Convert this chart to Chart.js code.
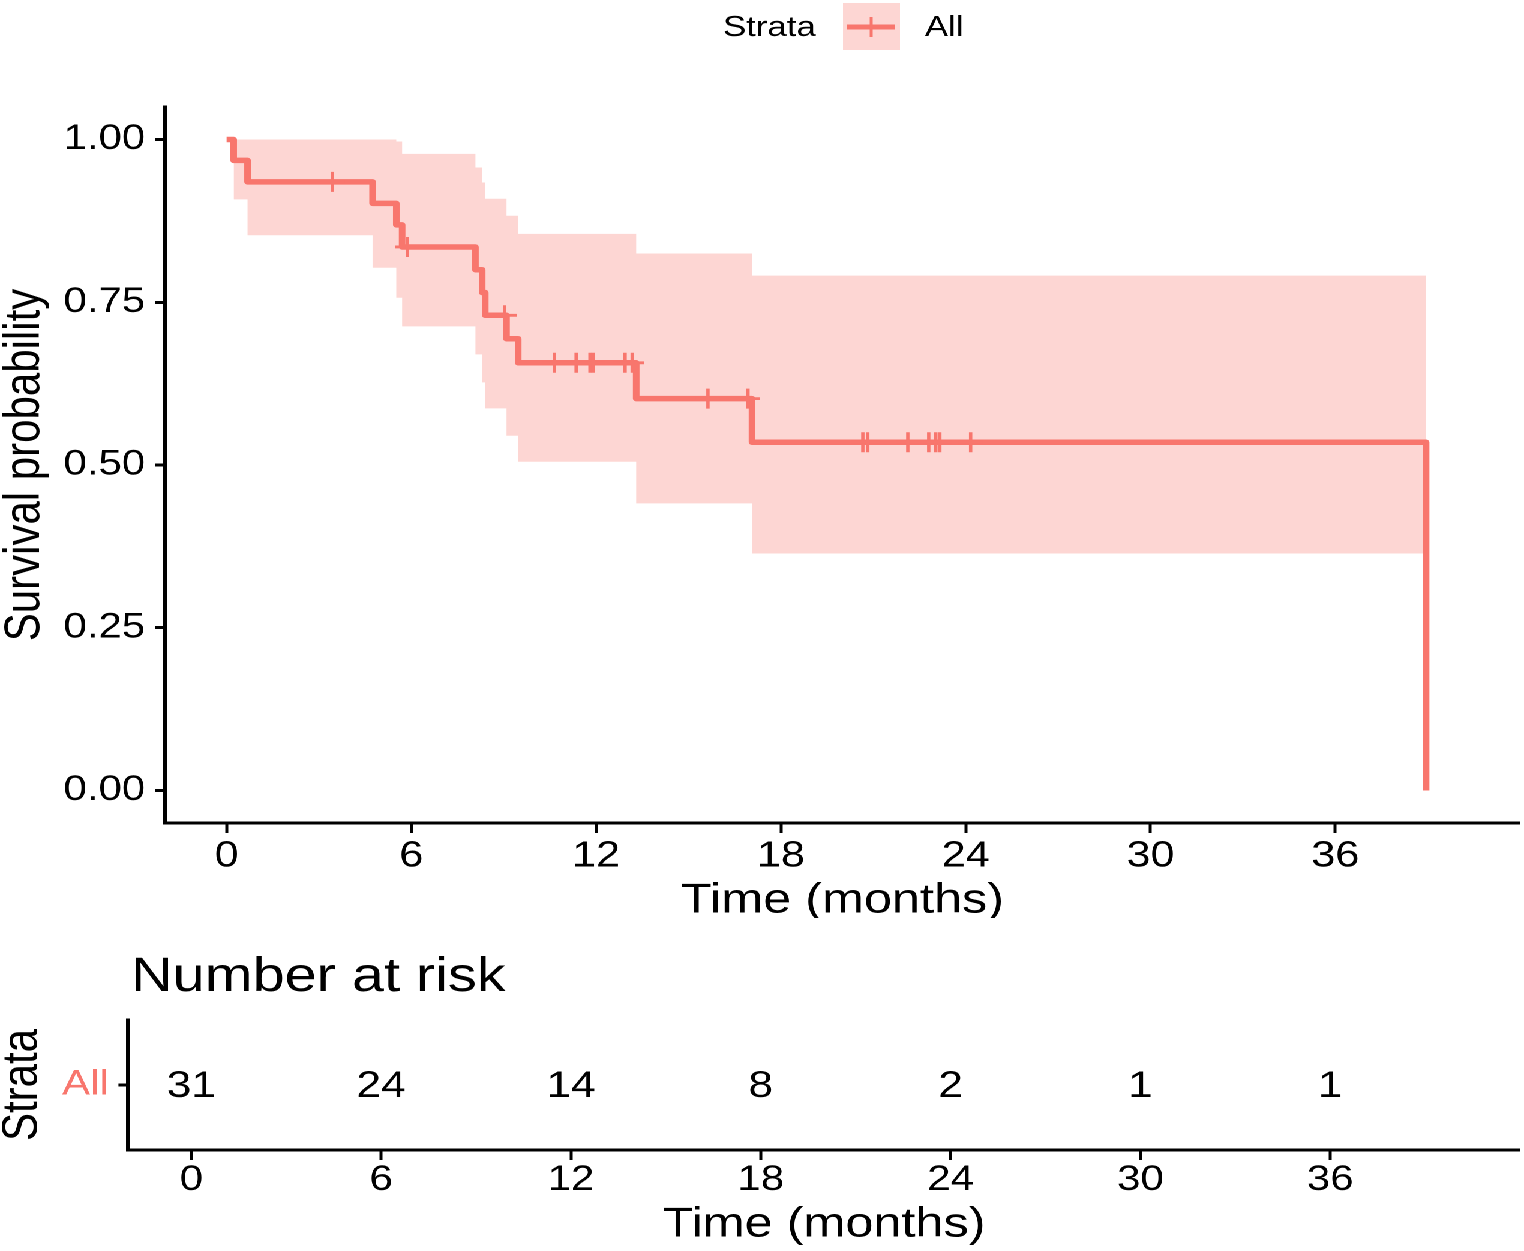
<!DOCTYPE html>
<html><head><meta charset="utf-8">
<script src="https://cdn.jsdelivr.net/npm/chart.js@4.4.1/dist/chart.umd.min.js"></script>
<style>
html,body{margin:0;padding:0;background:#fff;overflow:hidden;}
#wrap{position:absolute;left:0;top:0;width:1270px;height:1251px;transform:scaleX(1.2);transform-origin:0 0;}
#c1{position:absolute;left:0;top:0;}
#c2{position:absolute;left:0;top:918px;}
</style></head><body>
<div id="wrap"><canvas id="c1" width="1270" height="918"></canvas><canvas id="c2" width="1270" height="333"></canvas></div>
<script>
// ---- data ----
const eventTimes = [0, 0.23, 0.68, 4.74, 5.51, 5.70, 8.08, 8.30, 8.40, 9.09, 9.47, 13.30, 17.06, 38.95];
const survival   = [1, 0.968, 0.935, 0.902, 0.869, 0.835, 0.800, 0.765, 0.730, 0.694, 0.657, 0.602, 0.535, 0];
const ciTimes    = [0.23, 0.68, 4.74, 5.51, 5.70, 8.08, 8.30, 8.40, 9.09, 9.47, 13.30, 17.06, 38.95];
const ciUpper    = [1.000, 1.000, 1.000, 0.997, 0.978, 0.957, 0.934, 0.909, 0.883, 0.855, 0.825, 0.791, 0.791];
const ciLower    = [0.908, 0.853, 0.803, 0.757, 0.713, 0.670, 0.627, 0.587, 0.545, 0.505, 0.441, 0.364, 0.364];
const censorTimes = [3.44, 5.87, 9.03, 10.64, 11.35, 11.80, 11.90, 12.94, 13.17, 15.63, 16.93, 20.66, 20.82, 22.12, 22.80, 23.03, 23.16, 24.16];
const xTicks = [0, 6, 12, 18, 24, 30, 36];
const yTicks = [0, 0.25, 0.5, 0.75, 1];
const yTickLabels = ['0.00', '0.25', '0.50', '0.75', '1.00'];
const riskTimes = [0, 6, 12, 18, 24, 30, 36];
const nAtRisk = [31, 24, 14, 8, 2, 1, 1];
const strataName = 'All';
const legendTitle = 'Strata';

// ---- styling ----
const RED = '#F8766D';
const BAND = 'rgba(248,118,109,0.3)';
const FONT = "'Liberation Sans', Arial, Helvetica, sans-serif";
Chart.defaults.font.family = FONT;
Chart.defaults.color = '#000';

function survAt(t) {
  let v = survival[0];
  for (let i = 0; i < eventTimes.length; i++) { if (eventTimes[i] <= t) v = survival[i]; }
  return v;
}

const legendPlugin = {
  id: 'kmLegend',
  afterDraw(chart) {
    const ctx = chart.ctx;
    ctx.save();
    ctx.font = '29px ' + FONT;
    ctx.fillStyle = '#000';
    ctx.textBaseline = 'middle';
    ctx.textAlign = 'left';
    ctx.fillText(legendTitle, 602.5, 28);
    ctx.fillStyle = BAND;
    ctx.fillRect(702.5, 3, 47.5, 47);
    ctx.strokeStyle = RED;
    ctx.lineWidth = 5;
    ctx.beginPath(); ctx.moveTo(706, 27); ctx.lineTo(746, 27); ctx.stroke();
    ctx.lineWidth = 2.5;
    ctx.beginPath(); ctx.moveTo(726, 17); ctx.lineTo(726, 37); ctx.stroke();
    ctx.fillStyle = '#000';
    ctx.fillText(strataName, 770.8, 28);
    ctx.restore();
  }
};

const axisCommon = {
  grid: { display: true, drawOnChartArea: false, drawTicks: true, tickColor: '#000' },
  border: { display: true, color: '#000', width: 3 }
};

new Chart(document.getElementById('c1'), {
  type: 'line',
  data: {
    datasets: [
      { label: 'censor', type: 'scatter', order: 0,
        data: censorTimes.map(t => ({ x: t, y: survAt(t) })),
        pointStyle: 'cross', pointRadius: 10, pointBorderWidth: 2.8,
        borderColor: RED, backgroundColor: RED, showLine: false },
      { label: strataName, order: 1,
        data: eventTimes.map((t, i) => ({ x: t, y: survival[i] })),
        stepped: true, borderColor: RED, borderWidth: 5.5, pointRadius: 0,
        borderJoinStyle: 'round', borderCapStyle: 'butt', fill: false },
      { label: 'upper', order: 2,
        data: ciTimes.map((t, i) => ({ x: t, y: ciUpper[i] })),
        stepped: true, borderWidth: 0, borderColor: 'rgba(0,0,0,0)', pointRadius: 0,
        backgroundColor: BAND, fill: '+1' },
      { label: 'lower', order: 3,
        data: ciTimes.map((t, i) => ({ x: t, y: ciLower[i] })),
        stepped: true, borderWidth: 0, borderColor: 'rgba(0,0,0,0)', pointRadius: 0, fill: false }
    ]
  },
  options: {
    responsive: false, animation: false, devicePixelRatio: 2, events: [],
    layout: { autoPadding: false, padding: { top: 107, right: 3.3, left: 0, bottom: 0 } },
    plugins: { legend: { display: false }, tooltip: { enabled: false }, title: { display: false } },
    scales: {
      x: { type: 'linear', min: -2, max: 42,
        afterBuildTicks: s => { s.ticks = xTicks.map(v => ({ value: v })); },
        afterFit: s => { s.height = 95; },
        ticks: { font: { size: 36, lineHeight: 1.1 }, color: '#000', padding: 4, autoSkip: false, maxRotation: 0, callback: v => String(v) },
        grid: { ...axisCommon.grid, tickLength: 10, tickWidth: 2.5 },
        border: axisCommon.border,
        title: { display: true, text: 'Time (months)', font: { size: 42, lineHeight: 1.0 }, color: '#000', padding: { top: 0, bottom: -4 } }
      },
      y: { type: 'linear', min: -0.05, max: 1.05,
        afterBuildTicks: s => { s.ticks = yTicks.map(v => ({ value: v })); },
        afterFit: s => { s.width = 137.5; },
        ticks: { font: { size: 35, lineHeight: 1.1 }, color: '#000', padding: 8,
          callback: (v) => { const i = yTicks.indexOf(v); return i >= 0 ? yTickLabels[i] : ''; } },
        grid: { ...axisCommon.grid, tickLength: 8.5, tickWidth: 3 },
        border: axisCommon.border,
        title: { display: true, text: 'Survival probability', font: { size: 42, lineHeight: 1.0 }, color: '#000', padding: 0 }
      }
    }
  },
  plugins: [legendPlugin]
});

const riskPlugin = {
  id: 'riskText',
  afterDatasetsDraw(chart) {
    const ctx = chart.ctx;
    const meta = chart.getDatasetMeta(0);
    ctx.save();
    ctx.font = '37px ' + FONT;
    ctx.fillStyle = '#000';
    ctx.textAlign = 'center';
    ctx.textBaseline = 'middle';
    meta.data.forEach((pt, i) => ctx.fillText(String(nAtRisk[i]), pt.x, pt.y + 2));
    ctx.restore();
  },
  afterDraw(chart) {
    const ctx = chart.ctx;
    ctx.save();
    ctx.font = '48px ' + FONT;
    ctx.fillStyle = '#000';
    ctx.textAlign = 'left';
    ctx.textBaseline = 'middle';
    ctx.fillText('Number at risk', 109.2, 60);
    ctx.restore();
  }
};

new Chart(document.getElementById('c2'), {
  type: 'scatter',
  data: {
    labels: [strataName],
    datasets: [{ label: 'risk', data: riskTimes.map(t => ({ x: t, y: strataName })), pointRadius: 0 }]
  },
  options: {
    responsive: false, animation: false, devicePixelRatio: 2, events: [],
    layout: { autoPadding: false, padding: { top: 102, right: 3.3, left: 0, bottom: 7 } },
    plugins: { legend: { display: false }, tooltip: { enabled: false } },
    scales: {
      x: { type: 'linear', min: -2, max: 42,
        afterBuildTicks: s => { s.ticks = xTicks.map(v => ({ value: v })); },
        afterFit: s => { s.height = 94; },
        ticks: { font: { size: 35, lineHeight: 1.1 }, color: '#000', padding: 1, autoSkip: false, maxRotation: 0, callback: v => String(v) },
        grid: { ...axisCommon.grid, tickLength: 10, tickWidth: 2.5 },
        border: axisCommon.border,
        title: { display: true, text: 'Time (months)', font: { size: 42, lineHeight: 1.0 }, color: '#000', padding: { top: 0, bottom: -2 } }
      },
      y: { type: 'category', labels: [strataName], offset: true,
        afterFit: s => { s.width = 106.7; },
        ticks: { font: { size: 35, lineHeight: 1.1 }, color: RED, padding: 8 },
        grid: { ...axisCommon.grid, tickLength: 8, tickWidth: 3, offset: false },
        border: axisCommon.border,
        title: { display: true, text: legendTitle, font: { size: 42, lineHeight: 0.9 }, color: '#000', padding: 0 }
      }
    }
  },
  plugins: [riskPlugin]
});
</script>
</body></html>
